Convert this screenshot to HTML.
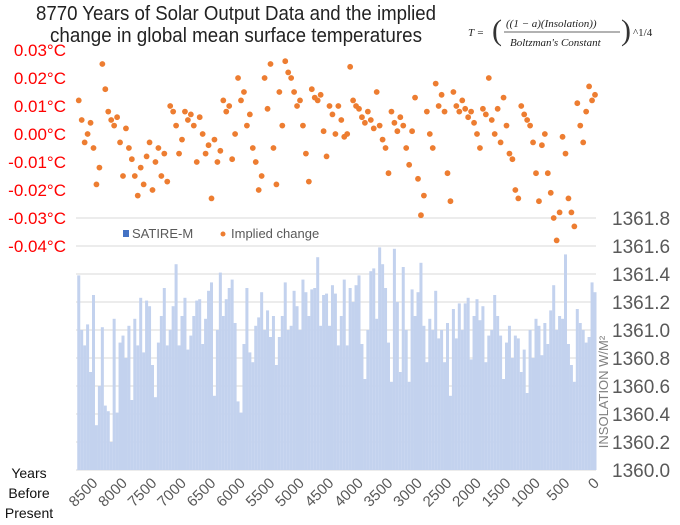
<!DOCTYPE html>
<html><head><meta charset="utf-8"><style>
html,body{margin:0;padding:0;background:#fff;}
svg{display:block;font-family:"Liberation Sans",sans-serif;}
</style></head><body>
<svg id="chart" width="680" height="525" viewBox="0 0 680 525" xmlns="http://www.w3.org/2000/svg">
<g font-size="20" fill="#222" text-anchor="middle">
<text x="236" y="20" textLength="400" lengthAdjust="spacingAndGlyphs">8770 Years of Solar Output Data and the implied</text>
<text x="236" y="42" textLength="372" lengthAdjust="spacingAndGlyphs">change in global mean surface temperatures</text>
</g>
<g font-family="'Liberation Serif',serif" font-style="italic" font-size="11" fill="#222">
<text x="468" y="36">T =</text>
<text x="492" y="40" font-size="30" font-style="normal" fill="#333">(</text>
<text x="506" y="27" font-size="11">((1 − a)(Insolation))</text>
<line x1="504" y1="32" x2="620" y2="32" stroke="#333" stroke-width="0.8"/>
<text x="510" y="46" font-size="11">Boltzman's Constant</text>
<text x="621" y="40" font-size="30" font-style="normal" fill="#333">)</text>
<text x="633" y="36" font-style="normal">^1/4</text>
</g>
<g id="grid"></g>
<g id="bars"></g>
<g id="dots"></g>
<g id="axes"></g>
<g font-size="13" fill="#595959">
<rect x="123" y="230" width="6" height="7" fill="#4472c4"/>
<text x="132" y="238">SATIRE-M</text>
<circle cx="223" cy="234" r="2.5" fill="#ed7d31"/>
<text x="231" y="238">Implied change</text>
</g>
<text transform="translate(608,392) rotate(-90)" text-anchor="middle" font-size="13" fill="#7f7f7f">INSOLATION W/M²</text>
<g font-size="14" fill="#111" text-anchor="middle">
<text x="29" y="478">Years</text>
<text x="29" y="498">Before</text>
<text x="29" y="518">Present</text>
</g>
</svg>
<script>
const tempTicks = [0.03,0.02,0.01,0.00,-0.01,-0.02,-0.03,-0.04];
const tempTickLabels = ["0.03°C","0.02°C","0.01°C","0.00°C","-0.01°C","-0.02°C","-0.03°C","-0.04°C"];
const insTicks = [1361.8,1361.6,1361.4,1361.2,1361.0,1360.8,1360.6,1360.4,1360.2,1360.0];
const insTickLabels = ["1361.8","1361.6","1361.4","1361.2","1361.0","1360.8","1360.6","1360.4","1360.2","1360.0"];
const yearTicks = [8500,8000,7500,7000,6500,6000,5500,5000,4500,4000,3500,3000,2500,2000,1500,1000,500,0];
const yearStep = 50;
const insolation = [1361.39,1361.0,1360.89,1361.04,1360.7,1361.25,1360.32,1360.6,1361.02,1360.46,
1360.42,1360.2,1361.08,1360.41,1360.91,1360.96,1360.8,1361.03,1360.5,1361.08,
1360.89,1361.23,1360.84,1361.21,1361.17,1360.75,1360.52,1360.91,1361.1,1361.3,
1360.89,1361.0,1361.17,1361.47,1360.89,1361.1,1361.23,1360.86,1360.96,1361.1,
1361.21,1361.22,1360.9,1361.08,1361.28,1361.34,1360.53,1361.0,1361.41,1361.1,
1361.22,1361.3,1361.36,1361.05,1360.49,1360.41,1360.9,1361.3,1360.84,1360.77,
1361.03,1361.09,1361.27,1361.0,1361.14,1360.95,1361.1,1360.75,1360.95,1361.1,
1361.34,1361.0,1361.03,1361.28,1361.17,1361.0,1361.36,1361.27,1361.1,1361.29,
1361.3,1361.52,1361.03,1361.25,1361.26,1361.03,1361.32,1361.26,1360.89,1361.1,
1361.36,1360.89,1361.3,1361.2,1361.32,1361.39,1360.9,1360.65,1361.0,1361.42,
1361.44,1361.08,1361.59,1361.47,1361.3,1360.91,1360.63,1361.58,1361.2,1360.7,
1361.45,1361.0,1360.63,1361.29,1361.1,1361.27,1361.48,1361.03,1360.77,1361.08,
1361.0,1361.28,1360.94,1361.0,1360.77,1361.05,1360.53,1361.15,1360.94,1361.19,
1361.0,1361.19,1361.23,1360.79,1361.1,1361.22,1361.07,1361.17,1360.77,1360.96,
1361.0,1361.25,1361.1,1360.96,1360.65,1360.91,1361.03,1360.8,1360.96,1360.94,
1360.7,1360.86,1360.55,1361.0,1360.8,1361.08,1361.03,1360.82,1361.05,1360.9,
1361.14,1361.32,1361.0,1361.1,1361.08,1361.54,1360.9,1360.75,1360.63,1361.15,
1361.05,1361.0,1360.91,1360.95,1361.34,1361.27];
const tempChange = [0.012,0.005,-0.003,0.000,0.004,-0.005,-0.018,-0.012,0.025,0.016,
0.008,0.005,0.003,0.006,-0.003,-0.015,0.002,-0.005,-0.009,-0.015,
-0.022,-0.012,-0.018,-0.008,-0.003,-0.020,-0.010,-0.005,-0.015,-0.007,
-0.017,0.010,0.008,0.003,-0.007,-0.002,0.008,0.005,0.007,0.003,
-0.010,0.006,0.000,-0.007,-0.004,-0.023,-0.002,-0.010,-0.006,0.012,
0.008,0.010,-0.009,0.000,0.020,0.012,0.015,0.003,0.007,-0.005,
-0.010,-0.020,-0.015,0.020,0.009,0.025,-0.005,-0.018,0.015,0.003,
0.026,0.022,0.020,0.015,0.010,0.012,0.003,-0.007,-0.017,0.016,
0.013,0.012,0.014,0.001,-0.008,0.010,0.007,0.000,0.010,0.005,
-0.001,0.000,0.024,0.012,0.010,0.009,0.006,0.004,0.008,0.005,
0.002,0.015,0.003,-0.002,-0.005,-0.014,0.008,0.004,0.001,0.006,
0.003,-0.005,-0.011,0.001,0.013,-0.016,-0.029,-0.022,0.008,0.000,
-0.005,0.018,0.010,0.014,0.008,-0.014,-0.024,0.015,0.010,0.008,
0.012,0.009,0.006,0.008,0.004,0.000,-0.005,0.009,0.007,0.020,
0.005,0.000,0.009,-0.003,0.013,0.003,-0.007,-0.009,-0.020,-0.023,
0.010,0.007,0.005,0.003,-0.003,-0.014,-0.024,-0.004,0.000,-0.014,
-0.021,-0.030,-0.038,-0.028,-0.001,-0.007,-0.023,-0.028,-0.033,0.011,
0.003,-0.003,0.008,0.017,0.012,0.014];

const NS='http://www.w3.org/2000/svg';
const plotL=76, plotR=596, gridTop=50, gridBot=470;
function xScale(year){ return 595 - year*0.059; }
function yTemp(v){ return gridTop + (0.03 - v)/0.01*28; }
function yIns(v){ return gridBot - (v - 1360.0)/0.2*28; }
function mk(tag, attrs, parent){ const e=document.createElementNS(NS,tag); for(const k in attrs) e.setAttribute(k, attrs[k]); parent.appendChild(e); return e; }

const grid=document.getElementById('grid');
insTicks.forEach(function(v){
  const l=mk('line',{x1:plotL,x2:plotR,y1:yIns(v),y2:yIns(v),stroke:'#d9d9d9','stroke-width':1},grid);
  
  
});

const bars=document.getElementById('bars');
const nB=insolation.length;
insolation.forEach(function(v,i){
  const year=(nB-1-i)*yearStep;
  const x=xScale(year);
  const y=yIns(v);
  const r=mk('rect',{x:x-1.5,y:y,width:3.0,height:gridBot-y,fill:'#c3d2ee'},bars);
  
  
});

const dots=document.getElementById('dots');
const nT=tempChange.length;
tempChange.forEach(function(v,i){
  const year=(nT-1-i)*yearStep;
  const c=mk('circle',{cx:xScale(year),cy:yTemp(v),r:2.9,fill:'#ed7d31'},dots);
  
  
});

const axes=document.getElementById('axes');
tempTicks.forEach(function(v,i){
  const t=mk('text',{x:66,y:yTemp(v)+6,'text-anchor':'end','font-size':17,fill:'#ff0000'},axes);
  t.textContent=tempTickLabels[i];
  
  
});
insTicks.forEach(function(v,i){
  const t=mk('text',{x:612,y:yIns(v)+7,'font-size':19,fill:'#595959'},axes);
  t.textContent=insTickLabels[i];
  
  
});
yearTicks.forEach(function(v){
  const x=xScale(v);
  const t=mk('text',{transform:'translate('+(x+5)+',484) rotate(-45)','text-anchor':'end','font-size':15,fill:'#595959'},axes);
  t.textContent=String(v);
  
  
});
</script>
</body></html>
